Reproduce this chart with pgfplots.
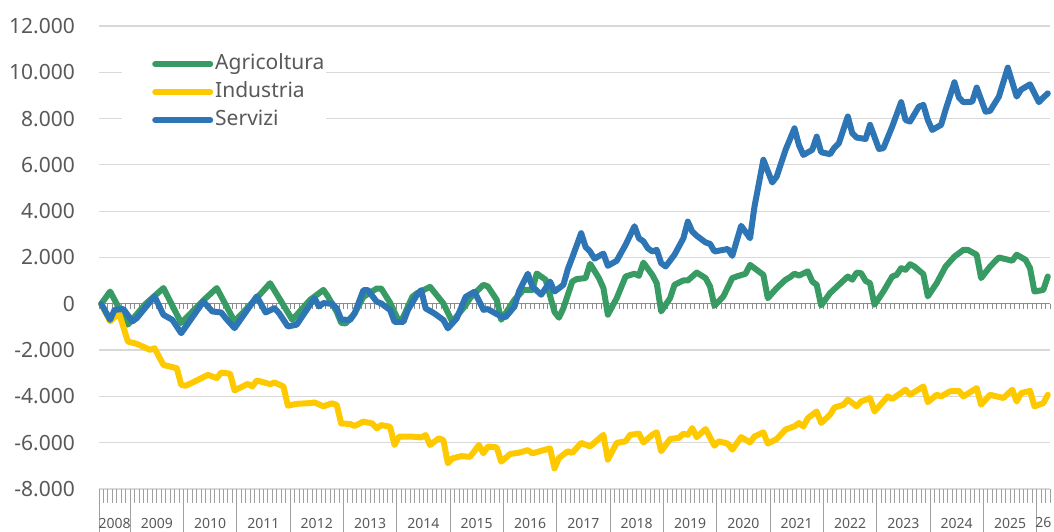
\documentclass[border=0pt]{standalone}
\usepackage{fontspec}
\setmainfont{Noto Sans}
\usepackage{pgfplots}
\pgfplotsset{compat=1.18}
\definecolor{agri}{RGB}{56,155,99}
\definecolor{indu}{RGB}{255,201,0}
\definecolor{serv}{RGB}{46,117,182}
\definecolor{txt}{RGB}{89,89,89}
\definecolor{gridc}{RGB}{217,217,217}
\definecolor{tickc}{RGB}{160,160,160}
\definecolor{zeroc}{RGB}{140,140,140}
\begin{document}
\begin{tikzpicture}[x=1pt,y=1pt]
\path[use as bounding box] (0,0) rectangle (1054,532);
\begin{axis}[
  at={(99pt,43pt)}, anchor=south west,
  scale only axis, width=951pt, height=463pt,
  xmin=-0.5, xmax=213.5, ymin=-8000, ymax=12000,
  ytick={-8000,-6000,...,12000},
  yticklabels={-8.000,-6.000,-4.000,-2.000,0,2.000,4.000,6.000,8.000,10.000,12.000},
  scaled y ticks=false,
  ymajorgrids, grid style={gridc, line width=1.2pt},
  axis line style={draw=none},
  tick pos=left,
  ytick style={draw=none},
  ytick align=inside,
  yticklabel style={font=\fontsize{21}{25}\selectfont, text=txt, anchor=east, inner xsep=0pt, xshift=-24pt},
  xtick={-0.5,0.5,...,213.5},
  xticklabels={},
  xtick align=outside,
  major tick length=14pt,
  xtick style={tickc, line width=0.8pt},
  extra x ticks={-0.5,6.5,18.5,...,210.5},
  extra x tick labels={},
  extra x tick style={major tick length=43pt, xtick style={tickc, line width=0.8pt}},
  clip=false,
  legend style={at={(rel axis cs:0.0242,0.9417)}, anchor=north west, draw=none, fill=white,
    inner sep=0pt, font=\fontsize{21}{25}\selectfont, text=txt, row sep=6pt,
    nodes={inner xsep=2pt, inner ysep=1pt, text height=15pt, text depth=5pt}},
  legend cell align=left,
  legend image code/.code={\path[draw=none,fill=none] (0pt,-1pt) rectangle (89pt,1pt); \draw[#1] (33pt,0pt) -- (88pt,0pt);},
  every axis plot/.append style={line width=6pt, line join=round, line cap=round, mark=none},
]
\draw[zeroc, line width=1.2pt] (axis cs:-0.5,0) -- (axis cs:213.5,0);
\pgfplotsinvokeforeach{0,...,214}{\draw[zeroc, line width=0.8pt] (axis cs:#1-0.5,0) -- ++(0pt,-5pt);}

\addplot[agri] coordinates {
(0,0)(2,530)(6,-900)(10,0)(14,680)(18,-830)(23,150)(26,680)(30,-760)(35,250)(38,890)(43,-690)(47,170)(50,600)(51,320)(53,-350)(54,-820)(55,-850)(57,-420)(59,300)(62,660)(63,660)(65,50)(67,-780)(68,-560)(70,300)(71,450)(74,730)(77,15)(79,-780)(82,-60)(83,245)(86,820)(87,750)(89,170)(90,-690)(93,170)(95,600)(97,600)(98,1310)(100,1040)(101,350)(102,-350)(103,-600)(104,-190)(106,960)(107,1070)(109,1110)(110,1730)(112,1110)(113,680)(114,-470)(116,245)(118,1180)(120,1300)(121,1210)(122,1780)(124,1250)(125,890)(126,-330)(128,240)(129,820)(131,1010)(132,1010)(134,1350)(136,1110)(137,750)(138,-90)(140,320)(142,1110)(143,1180)(145,1300)(146,1680)(149,1250)(150,240)(152,680)(154,1040)(155,1150)(156,1300)(157,1220)(159,1400)(160,960)(161,820)(162,-70)(164,460)(166,820)(168,1180)(169,1040)(170,1350)(171,1320)(172,990)(173,890)(174,-40)(176,530)(178,1180)(179,1250)(180,1540)(181,1470)(182,1710)(183,1610)(185,1280)(186,320)(188,890)(190,1610)(192,2040)(194,2330)(195,2330)(197,2120)(198,1110)(200,1610)(202,2000)(205,1860)(206,2120)(208,1900)(209,1540)(210,530)(212,600)(213,1180)
};
\addlegendentry{Agricoltura}
\addplot[indu] coordinates {
(0,0)(2,-760)(4,-400)(6,-1630)(8,-1730)(11,-1990)(12,-1920)(14,-2640)(17,-2780)(18,-3500)(19,-3540)(21,-3360)(24,-3070)(26,-3210)(27,-2970)(29,-3020)(30,-3740)(33,-3460)(34,-3570)(35,-3310)(38,-3470)(39,-3400)(41,-3570)(42,-4400)(44,-4320)(47,-4290)(48,-4260)(50,-4430)(51,-4360)(52,-4300)(53,-4370)(54,-5170)(56,-5190)(57,-5280)(59,-5090)(61,-5170)(62,-5380)(63,-5240)(65,-5310)(66,-6100)(67,-5740)(70,-5740)(72,-5770)(73,-5670)(74,-6100)(76,-5810)(77,-5890)(78,-6890)(79,-6680)(81,-6580)(83,-6610)(85,-6100)(86,-6460)(87,-6170)(89,-6200)(90,-6820)(92,-6490)(94,-6430)(96,-6320)(97,-6460)(99,-6350)(101,-6250)(102,-7110)(103,-6660)(105,-6370)(106,-6440)(108,-6010)(110,-6160)(113,-5660)(114,-6730)(116,-6010)(118,-5940)(119,-5660)(121,-5610)(122,-5990)(124,-5660)(125,-5550)(126,-6370)(128,-5840)(130,-5790)(131,-5610)(132,-5660)(133,-5370)(134,-5760)(136,-5410)(138,-6130)(139,-5940)(141,-6040)(142,-6300)(144,-5760)(146,-5990)(147,-5730)(149,-5550)(150,-6040)(152,-5840)(154,-5430)(156,-5290)(157,-5150)(158,-5300)(159,-4940)(161,-4650)(162,-5150)(164,-4790)(165,-4480)(167,-4360)(168,-4140)(170,-4430)(171,-4220)(173,-4070)(174,-4650)(176,-4220)(177,-4000)(178,-4110)(181,-3710)(182,-3930)(185,-3570)(186,-4250)(188,-3930)(189,-4000)(191,-3780)(193,-3760)(194,-4000)(196,-3760)(197,-3640)(198,-4360)(200,-3930)(203,-4070)(205,-3710)(206,-4220)(207,-3860)(209,-3760)(210,-4430)(212,-4290)(213,-3930)
};
\addlegendentry{Industria}
\addplot[serv] coordinates {
(0,0)(2,-690)(3,-260)(5,-230)(7,-760)(8,-620)(12,320)(14,-475)(16,-690)(18,-1270)(23,100)(25,-330)(27,-375)(28,-620)(30,-1050)(35,320)(37,-375)(39,-190)(40,-400)(42,-980)(44,-900)(48,245)(49,-115)(50,30)(52,0)(53,-200)(54,-680)(56,-700)(57,-420)(59,590)(60,590)(62,90)(63,15)(65,-270)(66,-780)(68,-780)(69,-270)(71,370)(72,590)(73,-200)(75,-420)(77,-700)(78,-1060)(80,-630)(82,300)(84,520)(86,-260)(87,-230)(90,-550)(91,-575)(93,-115)(94,530)(96,1300)(97,750)(99,390)(101,960)(102,530)(104,820)(105,1500)(106,2000)(108,3050)(109,2450)(110,2260)(111,1950)(113,2170)(114,1640)(116,1860)(118,2550)(120,3350)(121,2830)(122,2700)(123,2400)(124,2260)(125,2330)(126,1760)(127,1610)(129,2120)(131,2830)(132,3550)(133,3120)(134,2940)(136,2650)(137,2590)(138,2260)(140,2330)(141,2370)(142,2070)(144,3370)(146,2830)(147,4200)(149,6220)(151,5240)(152,5500)(154,6650)(156,7580)(157,6860)(158,6430)(160,6650)(161,7220)(162,6550)(164,6460)(165,6750)(166,6940)(168,8090)(169,7370)(170,7180)(172,7120)(173,7730)(175,6690)(176,6720)(178,7660)(180,8710)(181,7940)(182,7870)(184,8520)(185,8590)(186,7940)(187,7510)(189,7730)(190,8380)(192,9570)(193,8910)(194,8710)(196,8730)(197,9340)(199,8300)(200,8330)(202,8950)(204,10200)(206,8950)(207,9250)(209,9480)(211,8710)(212,8910)(213,9090)
};
\addlegendentry{Servizi}

\begin{scope}[every node/.style={font=\fontsize{14}{16}\selectfont, text=txt, anchor=center, yshift=-34pt}]
\node at (axis cs:3,-8000) {2008};
\node at (axis cs:12.5,-8000) {2009};
\node at (axis cs:24.5,-8000) {2010};
\node at (axis cs:36.5,-8000) {2011};
\node at (axis cs:48.5,-8000) {2012};
\node at (axis cs:60.5,-8000) {2013};
\node at (axis cs:72.5,-8000) {2014};
\node at (axis cs:84.5,-8000) {2015};
\node at (axis cs:96.5,-8000) {2016};
\node at (axis cs:108.5,-8000) {2017};
\node at (axis cs:120.5,-8000) {2018};
\node at (axis cs:132.5,-8000) {2019};
\node at (axis cs:144.5,-8000) {2020};
\node at (axis cs:156.5,-8000) {2021};
\node at (axis cs:168.5,-8000) {2022};
\node at (axis cs:180.5,-8000) {2023};
\node at (axis cs:192.5,-8000) {2024};
\node at (axis cs:204.5,-8000) {2025};
\node at (axis cs:212,-8000) {26};
\end{scope}
\end{axis}
\end{tikzpicture}
\end{document}
